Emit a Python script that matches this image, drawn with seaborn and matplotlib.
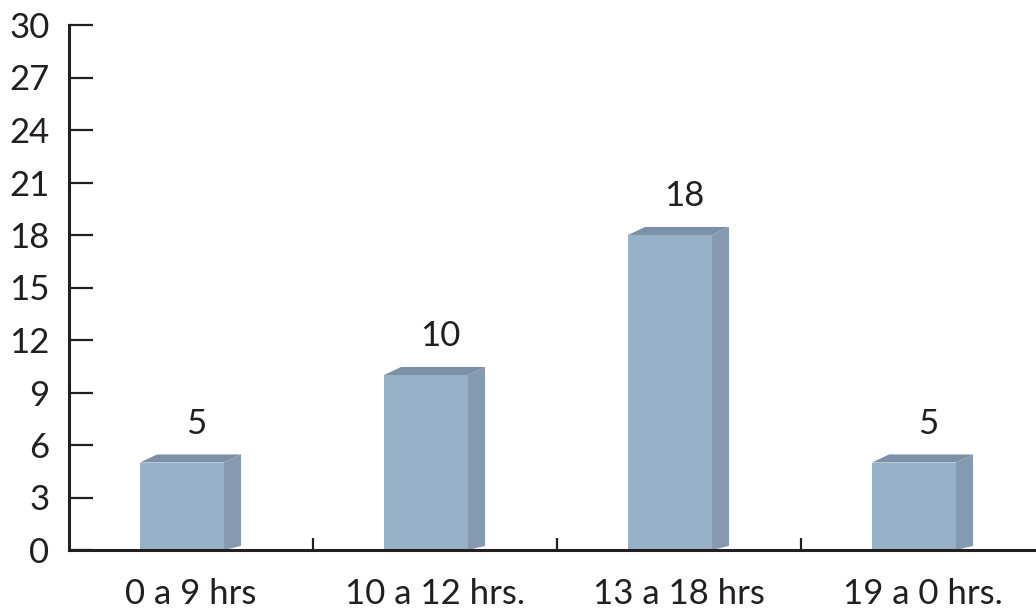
import matplotlib
matplotlib.use('Agg')
import matplotlib.pyplot as plt
from matplotlib.patches import Polygon
import seaborn as sns
import pandas as pd
import numpy as np

# data
categories = ['0 a 9 hrs', '10 a 12 hrs.', '13 a 18 hrs', '19 a 0 hrs.']
values = [5, 10, 18, 5]
y_ticks = [0, 3, 6, 9, 12, 15, 18, 21, 24, 27, 30]

front_color = '#97b1c8'
side_color = '#8599b0'
top_color = '#7b91a7'

sns.set_style('white')
plt.rcParams['font.family'] = ['Lato', 'DejaVu Sans']

df = pd.DataFrame({'slot': categories, 'count': values})

fig = plt.figure(figsize=(10.36, 6.09), dpi=100)
ax = fig.add_axes([69 / 1036, 59 / 609, 1 - 69 / 1036, 525 / 609])

sns.barplot(data=df, x='slot', y='count', color=front_color, width=0.344,
            saturation=1, ax=ax, zorder=3)

# pseudo 3D: shift front faces a bit left, add side and top faces
dx, dy = 0.07, 0.46
for p, v in zip(ax.patches, values):
    p.set_x(p.get_x() - 0.037)
    p.set_edgecolor('none')
    x0 = p.get_x()
    x1 = x0 + p.get_width()
    side = Polygon([(x1, 0), (x1 + dx, dy * 0.5), (x1 + dx, v + dy), (x1, v)],
                   closed=True, facecolor=side_color, edgecolor='none', zorder=2)
    top = Polygon([(x0, v), (x1, v), (x1 + dx, v + dy), (x0 + dx, v + dy)],
                  closed=True, facecolor=top_color, edgecolor='none', zorder=2)
    ax.add_patch(side)
    ax.add_patch(top)
    ax.text(x0 + p.get_width() / 2 + 0.057, v + 2.2, str(v), ha='center', va='center',
            fontsize=25, color='#231f20')

ax.set_xlim(-0.5, 3.5 - 9 / 244)
ax.set_ylim(0, 30)
ax.set_yticks(y_ticks)
ax.set_yticklabels([str(t) for t in y_ticks])
ax.set_xlabel('')
ax.set_ylabel('')

ax.set_xticks(range(len(categories)))
ax.set_xticklabels(categories)
ax.set_xticks([0.5, 1.5, 2.5], minor=True)

ax.tick_params(axis='y', direction='in', length=17, width=1.6, colors='#231f20',
               labelsize=25, pad=14, left=True)
ax.tick_params(axis='x', which='major', length=0, labelsize=25, pad=20,
               colors='#231f20')
ax.tick_params(axis='x', which='minor', direction='in', length=9, width=1.6,
               color='#231f20', bottom=True)

for s in ['top', 'right']:
    ax.spines[s].set_visible(False)
for s in ['left', 'bottom']:
    ax.spines[s].set_color('#231f20')
    ax.spines[s].set_linewidth(2.2)
    ax.spines[s].set_zorder(4)

fig.savefig('out.png', dpi=100)
